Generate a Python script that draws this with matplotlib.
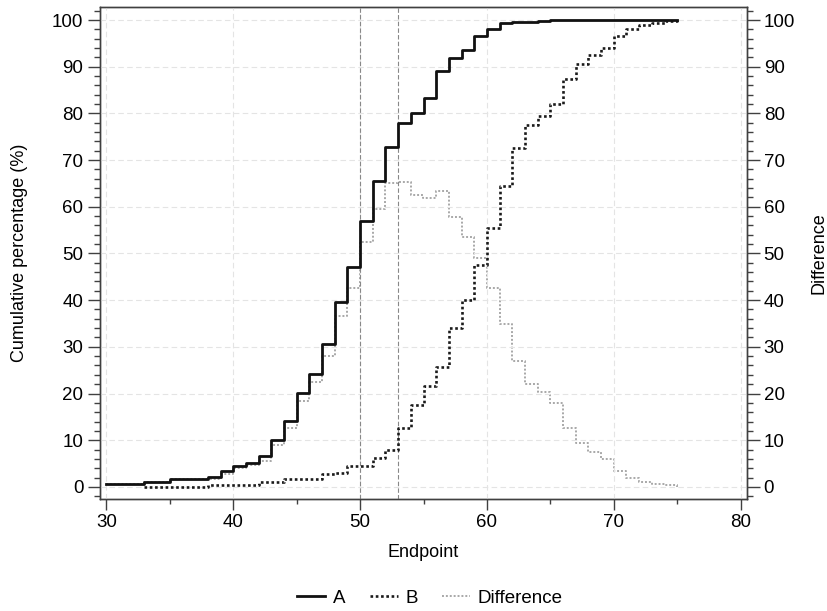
import numpy as np
import matplotlib.pyplot as plt
from matplotlib.ticker import MultipleLocator

plt.rcParams['font.family'] = ['Liberation Sans', 'DejaVu Sans']

# endpoints (integer steps)
endpoint_a = list(range(30, 76))
cum_a = [0.6, 0.6, 0.6, 1.1, 1.1, 1.7, 1.7, 1.7, 2.2, 3.3,
         4.5, 5.2, 6.6, 10.0, 14.2, 20.1, 24.1, 30.7, 39.6, 47.1,
         56.9, 65.6, 72.9, 77.9, 80.1, 83.4, 89.0, 91.9, 93.5, 96.6,
         98.0, 99.4, 99.5, 99.6, 99.8, 100, 100, 100, 100, 100,
         100, 100, 100, 100, 100, 100]

endpoint_b = list(range(33, 76))
cum_b = [0.0, 0.0, 0.0, 0.0, 0.0, 0.5, 0.5, 0.5, 0.5, 1.1,
         1.1, 1.6, 1.6, 1.6, 2.7, 3.0, 4.5, 4.5, 6.1, 7.9,
         12.6, 17.5, 21.6, 25.6, 34.1, 40.0, 47.6, 55.5, 64.5, 72.6,
         77.5, 79.5, 82.0, 87.3, 90.5, 92.5, 94.0, 96.6, 98.0, 98.9,
         99.4, 99.7, 100.0]

cutoffs = [50, 53]

# difference A - B over A's range (B is 0 before it starts)
b_full = np.zeros(len(endpoint_a))
b_full[endpoint_a.index(endpoint_b[0]):] = cum_b
diff = np.array(cum_a) - b_full

fig = plt.figure(figsize=(8.28, 6.11), dpi=100)
ax = fig.add_axes([100/828, 1-499/611, 647/828, 492/611])
ax2 = ax.twinx()

ld, = ax2.plot(endpoint_a, diff, drawstyle='steps-post', color='#a8a8a8',
               lw=1.4, linestyle=(0, (1, 1)), label='Difference')
lb, = ax.plot(endpoint_b, cum_b, drawstyle='steps-post', color='#1a1a1a',
              lw=1.9, linestyle=(0, (1, 1)), label='B')
la, = ax.plot(endpoint_a, cum_a, drawstyle='steps-post', color='#111111',
              lw=2.0, label='A')

for c in cutoffs:
    ax.axvline(c, color='#888888', lw=0.8, linestyle=(0, (4, 2)), zorder=1)

ax.set_zorder(ax2.get_zorder() + 1)
ax.patch.set_visible(False)

for a in (ax, ax2):
    a.set_xlim(29.5, 80.5)
    a.set_ylim(-2.6, 102.8)
    a.yaxis.set_major_locator(MultipleLocator(10))
    a.yaxis.set_minor_locator(MultipleLocator(2))
    a.tick_params(which='major', length=9, width=1, labelsize=13.5,
                  color='#404040', pad=3)
    a.tick_params(which='minor', length=4.5, width=1, color='#404040')
    for s in a.spines.values():
        s.set_color('#404040')
        s.set_linewidth(1)

ax.xaxis.set_major_locator(MultipleLocator(10))
ax.xaxis.set_minor_locator(MultipleLocator(5))
ax.tick_params(axis='x', which='major', length=8)
ax.tick_params(axis='x', which='minor', length=3.5)

ax.grid(True, which='major', color='#e4e4e4', lw=0.8, linestyle=(0, (5, 3)))
ax.set_axisbelow(True)

ax.set_xlabel('Endpoint', fontsize=13)
ax.set_ylabel('Cumulative percentage (%)', fontsize=13)
ax2.set_ylabel('Difference', fontsize=13)
ax.yaxis.set_label_coords(-0.111, 0.5)
ax2.yaxis.set_label_coords(1.098, 0.5)
ax.xaxis.set_label_coords(0.5, -0.092)

fig.legend(handles=[la, lb, ld], labels=['A', 'B', 'Difference'],
           loc='center', bbox_to_anchor=(430/828, 1-598/611), ncol=3,
           frameon=False, fontsize=13.5, handlelength=1.5,
           handletextpad=0.4, columnspacing=1.3)

fig.savefig('out.png', dpi=100)
